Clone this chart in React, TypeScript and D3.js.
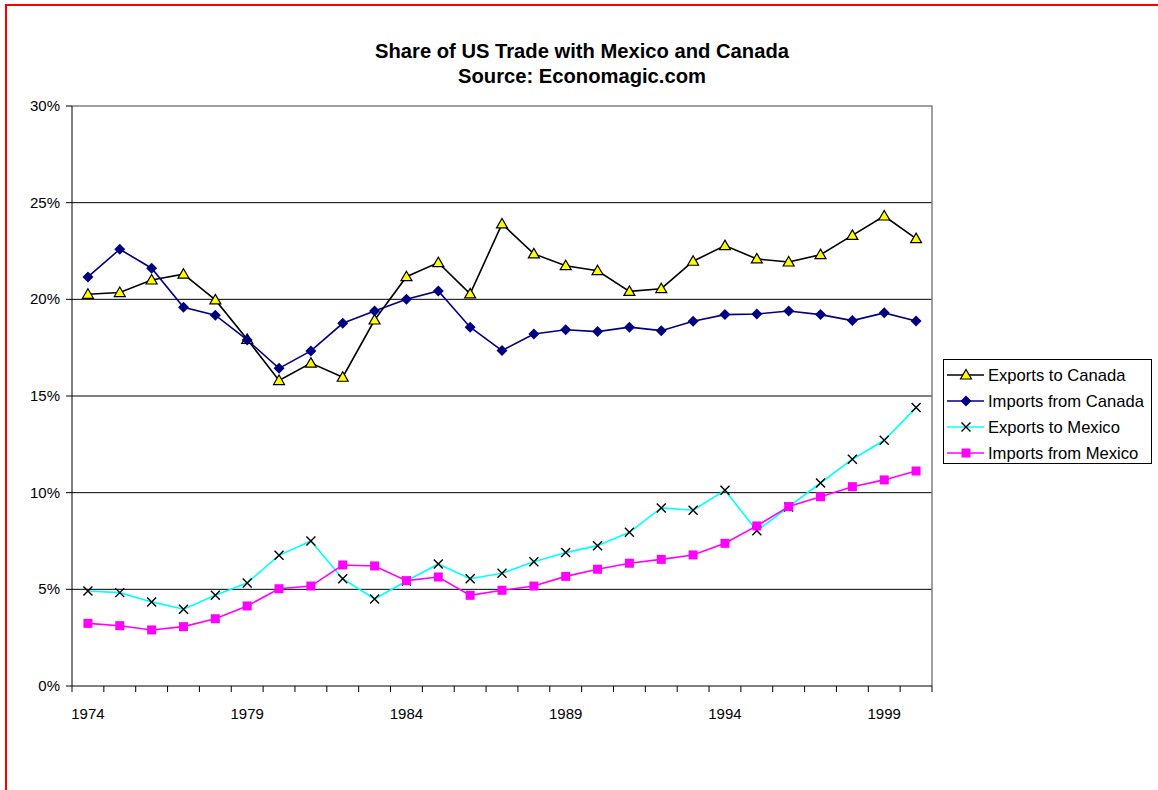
import React, { useEffect, useRef } from 'react';
import * as d3 from 'd3';

const years = d3.range(1974, 2001);
const yTicks = [0, 5, 10, 15, 20, 25, 30];

const exportsCanada = [20.26, 20.35, 21.0, 21.3, 19.97, 17.93, 15.8, 16.7, 15.97, 18.93, 21.17, 21.9, 20.28, 23.9, 22.35, 21.74, 21.48, 20.41, 20.55, 21.97, 22.78, 22.09, 21.93, 22.31, 23.31, 24.31, 23.14];
const importsCanada = [21.16, 22.59, 21.61, 19.59, 19.18, 17.9, 16.43, 17.33, 18.76, 19.4, 20.0, 20.43, 18.56, 17.35, 18.21, 18.43, 18.33, 18.56, 18.38, 18.87, 19.21, 19.24, 19.4, 19.21, 18.9, 19.3, 18.88];
const exportsMexico = [4.91, 4.83, 4.35, 3.97, 4.69, 5.33, 6.76, 7.5, 5.55, 4.5, 5.43, 6.31, 5.55, 5.83, 6.43, 6.9, 7.26, 7.95, 9.21, 9.09, 10.12, 8.03, 9.26, 10.5, 11.73, 12.71, 14.4];
const importsMexico = [3.24, 3.12, 2.9, 3.07, 3.48, 4.14, 5.03, 5.17, 6.26, 6.21, 5.45, 5.64, 4.69, 4.95, 5.17, 5.67, 6.04, 6.35, 6.55, 6.78, 7.38, 8.28, 9.28, 9.79, 10.31, 10.66, 11.12];

const seriesNames = ['Exports to Canada', 'Imports from Canada', 'Exports to Mexico', 'Imports from Mexico'];
const seriesValues = [exportsCanada, importsCanada, exportsMexico, importsMexico];
const lineColors = ['#000000', '#000080', '#00ffff', '#ff00ff'];

const FONT = '"Liberation Sans", Arial, sans-serif';

// petit dessin des marqueurs
function drawMarker(g, kind, x, y) {
  if (kind === 0) {
    g.append('path')
      .attr('d', `M${x},${y - 5.5}L${x + 5.5},${y + 4}L${x - 5.5},${y + 4}Z`)
      .attr('fill', '#ffff00').attr('stroke', '#000').attr('stroke-width', 1.2);
  } else if (kind === 1) {
    g.append('path')
      .attr('d', `M${x},${y - 5.5}L${x + 5.5},${y}L${x},${y + 5.5}L${x - 5.5},${y}Z`)
      .attr('fill', '#000080');
  } else if (kind === 2) {
    g.append('path')
      .attr('d', `M${x - 4.5},${y - 4.5}L${x + 4.5},${y + 4.5}M${x + 4.5},${y - 4.5}L${x - 4.5},${y + 4.5}`)
      .attr('stroke', '#000').attr('stroke-width', 1.4);
  } else {
    g.append('rect')
      .attr('x', x - 4.5).attr('y', y - 4.5).attr('width', 9).attr('height', 9)
      .attr('fill', '#ff00ff');
  }
}

const App = () => {
  const svgRef = useRef(null);

  useEffect(() => {
    const svg = d3.select(svgRef.current);
    svg.selectAll('*').remove();

    const x = d3.scaleBand().domain(years.map(String)).range([72, 932]);
    const y = d3.scaleLinear().domain([0, 30]).range([686, 106]);
    const cx = (yr) => x(String(yr)) + x.bandwidth() / 2;

    // cadre rouge
    svg.append('rect')
      .attr('x', 6).attr('y', 5).attr('width', 1170).attr('height', 800)
      .attr('fill', 'none').attr('stroke', '#ff0000').attr('stroke-width', 2);

    // titre
    const title = svg.append('text')
      .attr('x', 582).attr('text-anchor', 'middle')
      .attr('font-family', FONT).attr('font-weight', 'bold').attr('font-size', 20.2);
    title.append('tspan').attr('x', 582).attr('y', 58).text('Share of US Trade with Mexico and Canada');
    title.append('tspan').attr('x', 582).attr('y', 83).text('Source: Economagic.com');

    // grille
    svg.selectAll('.grid')
      .data(yTicks.filter(d => d > 0 && d < 30))
      .enter().append('line')
      .attr('x1', 72).attr('x2', 932)
      .attr('y1', d => y(d)).attr('y2', d => y(d))
      .attr('stroke', '#000').attr('stroke-width', 1);

    // bord du plot
    svg.append('path')
      .attr('d', `M72,${y(30)}H932V${y(0)}`)
      .attr('fill', 'none').attr('stroke', '#808080').attr('stroke-width', 1.5);

    // axe y
    svg.append('line').attr('x1', 72).attr('x2', 72).attr('y1', y(30)).attr('y2', y(0))
      .attr('stroke', '#000').attr('stroke-width', 1);
    yTicks.forEach(t => {
      svg.append('line').attr('x1', 66).attr('x2', 72).attr('y1', y(t)).attr('y2', y(t))
        .attr('stroke', '#000');
      svg.append('text')
        .attr('x', 60).attr('y', y(t) + 5)
        .attr('text-anchor', 'end')
        .attr('font-family', FONT).attr('font-size', 15)
        .text(t + '%');
    });

    // axe x
    svg.append('line').attr('x1', 72).attr('x2', 932).attr('y1', y(0)).attr('y2', y(0))
      .attr('stroke', '#000').attr('stroke-width', 1);
    years.forEach((yr, i) => {
      const x0 = x(String(yr));
      svg.append('line').attr('x1', x0).attr('x2', x0).attr('y1', y(0)).attr('y2', y(0) + 6)
        .attr('stroke', '#000');
      if (i === years.length - 1) {
        svg.append('line').attr('x1', x0 + x.bandwidth()).attr('x2', x0 + x.bandwidth())
          .attr('y1', y(0)).attr('y2', y(0) + 6).attr('stroke', '#000');
      }
      if ((yr - 1974) % 5 === 0) {
        svg.append('text')
          .attr('x', cx(yr)).attr('y', 719)
          .attr('text-anchor', 'middle')
          .attr('font-family', FONT).attr('font-size', 15)
          .text(yr);
      }
    });

    // lignes
    const line = d3.line().x((d, i) => cx(years[i])).y(d => y(d));
    seriesValues.forEach((vals, s) => {
      svg.append('path')
        .attr('d', line(vals))
        .attr('fill', 'none')
        .attr('stroke', lineColors[s])
        .attr('stroke-width', 1.6);
    });
    seriesValues.forEach((vals, s) => {
      const g = svg.append('g');
      vals.forEach((v, i) => drawMarker(g, s, cx(years[i]), y(v)));
    });

    // legende
    svg.append('rect')
      .attr('x', 943.5).attr('y', 359.5).attr('width', 208).attr('height', 104)
      .attr('fill', '#fff').attr('stroke', '#000').attr('stroke-width', 1);
    seriesNames.forEach((name, s) => {
      const ly = 375 + s * 26;
      svg.append('line').attr('x1', 947).attr('x2', 984).attr('y1', ly).attr('y2', ly)
        .attr('stroke', lineColors[s]).attr('stroke-width', 1.6);
      drawMarker(svg.append('g'), s, 966, ly);
      svg.append('text')
        .attr('x', 988).attr('y', ly + 6)
        .attr('font-family', FONT).attr('font-size', 16.6)
        .text(name);
    });
  }, []);

  return (
    <svg ref={svgRef} width={1158} height={790}
      style={{ position: 'absolute', left: 0, top: 0, background: '#fff' }}></svg>
  );
};

export default App;
